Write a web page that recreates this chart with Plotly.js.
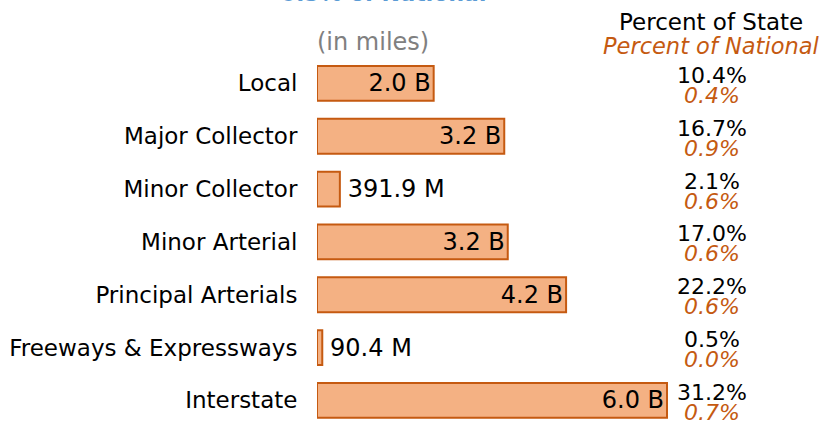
<!DOCTYPE html>
<html><head><meta charset="utf-8">
<script src="https://cdn.plot.ly/plotly-3.0.1.min.js"></script>
<style>html,body{margin:0;padding:0;background:#fff}</style>
</head><body>
<div id="chart" style="width:821px;height:422px"></div>
<script>
const categories = ["Local","Major Collector","Minor Collector","Minor Arterial","Principal Arterials","Freeways & Expressways","Interstate"];
const miles = [2.0e9, 3.21e9, 391.9e6, 3.27e9, 4.27e9, 90.4e6, 6.0e9];
const barLabels = ["2.0 B","3.2 B","391.9 M","3.2 B","4.2 B","90.4 M","6.0 B"];
const pctState = ["10.4%","16.7%","2.1%","17.0%","22.2%","0.5%","31.2%"];
const pctNational = ["0.4%","0.9%","0.6%","0.6%","0.6%","0.0%","0.7%"];
const titleText = "0.5% of National";

const FONT = "DejaVu Sans, sans-serif";
const ORANGE = "#c55a11";
const textPos = miles.map(v => v < 1e9 ? "outside" : "inside");
const shownText = barLabels.map((t, i) => textPos[i] === "outside" ? "\u2009" + t : t);

const trace = {
  type: "bar", orientation: "h",
  y: categories, x: miles.map(v => v / 1e9),
  text: shownText, textposition: textPos,
  insidetextanchor: "end", constraintext: "none", cliponaxis: false,
  textfont: {family: FONT, size: 24, color: "#000"},
  outsidetextfont: {family: FONT, size: 24, color: "#000"},
  insidetextfont: {family: FONT, size: 24, color: "#000"},
  marker: {color: "#f4b183", line: {color: ORANGE, width: 2}},
  width: 0.66, hoverinfo: "none"
};

const TOP = 57, H = 422 - TOP;
function px(xp){ return (xp - 317) / 500; }
function py(yp){ return (422 - yp) / H; }

const annotations = [];
categories.forEach((c, i) => {
  annotations.push({x: px(712), xref: "paper", y: c, yref: "y", text: pctState[i], showarrow: false,
    font: {family: FONT, size: 22, color: "#000"}, xanchor: "center", yanchor: "middle", yshift: 8});
  annotations.push({x: px(712), xref: "paper", y: c, yref: "y", text: "<i>" + pctNational[i] + "</i>", showarrow: false,
    font: {family: FONT, size: 22, color: ORANGE}, xanchor: "center", yanchor: "middle", yshift: -12});
});
annotations.push({x: px(711), xref: "paper", y: py(22), yref: "paper", text: "Percent of State", showarrow: false,
  font: {family: FONT, size: 23, color: "#000"}, xanchor: "center", yanchor: "middle"});
annotations.push({x: px(711), xref: "paper", y: py(46), yref: "paper", text: "<i>Percent of National</i>", showarrow: false,
  font: {family: FONT, size: 22.5, color: ORANGE}, xanchor: "center", yanchor: "middle"});
annotations.push({x: px(315), xref: "paper", y: py(42), yref: "paper", text: "(in miles)", showarrow: false,
  font: {family: FONT, size: 24, color: "#808080"}, xanchor: "left", yanchor: "middle"});
annotations.push({x: px(385), xref: "paper", y: py(-7), yref: "paper", text: "<b><i>" + titleText + "</i></b>", showarrow: false,
  font: {family: FONT, size: 22, color: "#5b9bd5"}, xanchor: "center", yanchor: "middle"});

const layout = {
  width: 821, height: 422,
  margin: {l: 317, r: 4, t: TOP, b: 0},
  paper_bgcolor: "#fff", plot_bgcolor: "#fff",
  showlegend: false,
  font: {family: FONT, size: 23, color: "#000"},
  xaxis: {range: [0, 6.0 * 500 / 350], visible: false, fixedrange: true},
  yaxis: {type: "category", categoryorder: "array", categoryarray: categories,
    range: [-0.5 + H / 52.83, -0.5], showline: false, showgrid: false, zeroline: false,
    ticks: "outside", ticklen: 14, tickcolor: "rgba(0,0,0,0)",
    tickfont: {family: FONT, size: 23, color: "#000"}, fixedrange: true},
  annotations: annotations
};
Plotly.newPlot("chart", [trace], layout, {displayModeBar: false, staticPlot: true});
</script>
</body></html>
